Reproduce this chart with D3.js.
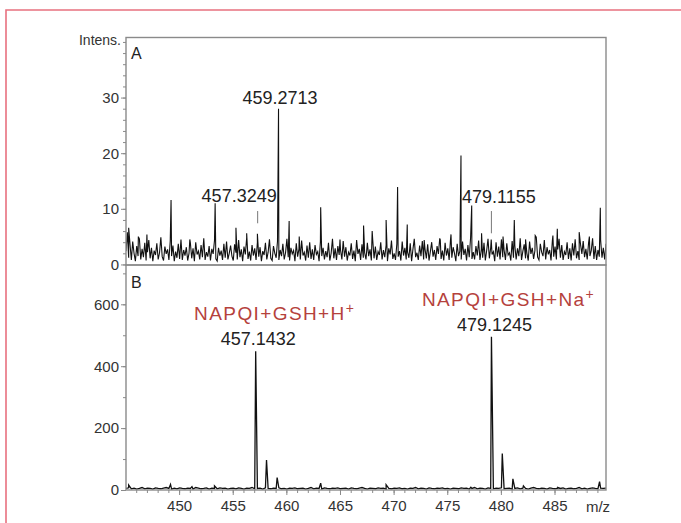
<!DOCTYPE html>
<html>
<head>
<meta charset="utf-8">
<script src="https://cdnjs.cloudflare.com/ajax/libs/d3/7.8.5/d3.min.js"></script>
<style>
  body { margin: 0; background: #fff; }
  text { font-family: "Liberation Sans", Arial, sans-serif; }
</style>
</head>
<body>
<div id="graph"></div>
<script>

// noise traces are sampled on a regular m/z grid
var mzStart = 445.05, stepA = 0.125, stepB = 0.25;

// panel A - baseline noise (Intens.)
var noiseA = [
  2.4,5.8,1.2,3.6,0.8,4.1,2.0,0.6,3.3,1.5,4.6,0.9,2.8,1.3,3.9,0.7,2.2,4.4,1.1,3.0,
  0.6,2.5,1.7,3.8,0.9,2.1,4.9,1.4,0.7,3.2,1.9,2.7,0.8,4.2,1.5,3.4,0.6,2.3,1.2,3.7,
  1.0,4.5,0.8,2.6,1.6,3.1,0.7,2.0,3.9,1.1,2.9,0.6,4.0,1.8,2.4,0.9,3.5,1.3,4.7,0.8,
  2.2,1.4,3.3,0.7,2.8,1.9,4.3,1.0,0.6,3.0,1.6,2.5,0.8,3.7,1.2,4.1,0.9,2.0,3.4,1.5,
  0.7,3.6,2.1,0.9,4.4,1.3,2.7,0.6,3.2,1.8,4.8,1.0,2.3,0.7,3.5,1.6,2.9,0.8,4.0,1.4,
  3.1,0.6,2.4,1.7,3.9,0.9,2.2,4.5,1.1,0.7,3.3,2.0,1.2,4.2,0.8,2.6,1.5,3.7,0.9,2.1,
  4.6,1.3,0.7,3.0,1.9,2.5,0.6,3.8,1.4,2.8,0.9,4.3,1.6,2.2,0.7,3.4,1.2,4.0,1.0,2.7,
  0.8,3.5,1.8,2.3,0.6,4.1,1.5,3.0,0.9,2.4,1.3,3.9,0.7,2.0,4.6,1.1,2.9,0.8,3.3,1.7,
  2.6,0.9,4.2,1.4,3.1,0.7,2.2,1.6,3.8,1.0,2.5,0.6,4.4,1.9,2.8,0.8,3.6,1.2,2.1,0.9,
  3.9,1.5,2.7,0.7,4.5,1.1,3.2,0.8,2.3,1.7,4.0,0.9,2.6,1.3,3.5,0.6,2.9,1.8,4.3,1.0,
  2.0,0.8,3.7,1.4,2.4,0.7,4.1,1.6,3.0,0.9,2.2,1.2,3.8,0.6,2.7,4.6,1.3,2.1,0.8,3.4,
  1.5,4.2,0.9,2.8,1.1,3.6,0.7,2.3,4.0,1.4,2.6,0.8,3.3,1.9,4.7,1.0,2.5,0.7,3.9,1.6,
  2.9,0.8,4.4,1.2,3.1,2.0,0.6,3.7,1.5,2.4,0.9,4.1,1.7,2.8,0.7,3.5,1.3,4.8,1.0,2.2,
  0.9,3.3,1.6,4.3,0.8,2.7,1.2,3.9,0.7,2.5,4.6,1.1,3.0,1.8,2.3,0.6,4.0,1.4,3.2,0.9,
  4.5,1.3,2.6,0.8,3.8,1.7,2.1,0.7,4.2,1.2,3.4,0.9,2.9,1.5,4.7,0.8,2.4,3.6,1.1,2.0,
  0.7,4.1,1.9,3.0,1.0,2.5,4.9,1.3,0.8,3.7,2.2,1.5,4.4,0.9,3.1,1.8,2.6,0.7,4.3,1.4,
  3.2,0.9,2.7,4.6,1.2,3.5,0.8,2.3,1.7,4.0,1.0,2.9,0.7,3.8,1.6,4.5,1.1,2.4,0.8,3.6,
  1.9,4.2,1.3,2.8,0.9,3.9,1.5,2.5,4.7,1.0,3.3,0.8,2.6,1.4,4.4,1.2,3.0,0.9,3.7,2.1
];
// panel A - spikes [m/z, intensity]
var peaksA = [
  [445.3, 6.6], [446.2, 5.0], [447.0, 5.4], [449.25, 11.6], [451.0, 4.5],
  [453.36, 11.0], [455.3, 6.6], [456.3, 5.6], [457.3, 5.5], [459.27, 28.0],
  [460.26, 7.8], [461.2, 5.0], [463.2, 10.3], [465.0, 4.5], [467.2, 7.0],
  [468.0, 6.0], [469.3, 8.0], [470.37, 13.9], [471.27, 7.2], [472.85, 4.4],
  [474.35, 4.4], [475.35, 5.4], [476.28, 19.6], [477.28, 10.6], [478.2, 5.6],
  [479.1, 4.5], [480.2, 5.0], [481.25, 8.0], [482.3, 4.5], [483.2, 5.2],
  [484.85, 5.2], [485.26, 6.4], [487.3, 5.8], [488.25, 5.0], [489.27, 10.2]
];

// panel B - baseline noise
var noiseB = [
  5,7,4,6,3,5,8,4,6,5,3,7,5,4,6,8,5,3,6,4,
  7,5,4,6,5,3,8,6,4,5,7,3,6,5,4,7,5,6,3,5,
  6,4,7,5,3,6,5,8,4,5,6,3,7,5,4,6,5,7,4,5,
  3,6,5,7,4,5,6,3,5,8,4,6,5,3,7,5,4,6,5,7,
  4,5,6,3,7,5,4,6,8,5,3,6,5,4,7,5,6,3,5,4,
  6,5,7,4,5,3,6,5,8,4,6,5,3,7,5,4,6,5,7,4,
  5,3,6,5,4,7,5,6,3,5,8,4,6,5,3,7,5,4,6,5,
  7,4,5,6,3,5,7,4,6,5,3,6,8,5,4,6,5,3,7,5,
  4,6,5,7,3,5,6,4,5,8,4,6,3,5,7,5,4,6,5,6
];
// panel B - peaks [m/z, intensity]
var peaksB = [
  [445.3, 16], [449.2, 18], [451.2, 11], [453.3, 13], [457.14, 448],
  [458.15, 97], [459.14, 40], [463.2, 22], [469.3, 17], [477.2, 9],
  [479.12, 495], [480.13, 118], [481.12, 36], [482.1, 13], [485.3, 8],
  [489.2, 27]
];

// ticks
var xTicks = [450, 455, 460, 465, 470, 475, 480, 485];
var yTicksA = [0, 10, 20, 30];
var yTicksB = [0, 200, 400, 600];

// peak labels
var labelsA = [
  { mz: 459.2713, v: 28.0, text: "459.2713" },
  { mz: 457.3249, v: 9.6, text: "457.3249", mark: [7.4, 9.6] },
  { mz: 479.1155, v: 9.6, text: "479.1155", mark: [5.6, 9.6] }
];
var labelsB = [
  { mz: 457.1432, v: 448, text: "457.1432", ion: "NAPQI+GSH+H" },
  { mz: 479.1245, v: 495, text: "479.1245", ion: "NAPQI+GSH+Na" }
];

// layout
var left = 126, right = 606, topA = 37.5, midY = 265, bottomB = 490;

var svg = d3.select("#graph")
  .append("svg")
  .attr("width", 681)
  .attr("height", 523);

// pink page frame
svg.append("path")
  .attr("d", "M6,523V10H681")
  .attr("fill", "none")
  .attr("stroke", "#e8717f")
  .attr("stroke-width", 1.6);

var x = d3.scaleLinear().domain([445.05, 489.8]).range([left, right]);
var yA = d3.scaleLinear().domain([-0.1, 40.8]).range([midY, topA]);
var yB = d3.scaleLinear().domain([0, 727]).range([bottomB, midY]);

svg.append("clipPath").attr("id", "clip")
  .append("rect")
  .attr("x", left).attr("y", topA)
  .attr("width", right - left).attr("height", bottomB - topA);

function buildTrace(noise, step, peaks) {
  var pts = noise.map(function (v, i) { return { mz: mzStart + i * step, v: v }; });
  peaks.forEach(function (p) { pts.push({ mz: p[0], v: p[1] }); });
  pts.sort(function (a, b) { return a.mz - b.mz; });
  return pts;
}

var traceA = buildTrace(noiseA, stepA, peaksA);
var traceB = buildTrace(noiseB, stepB, peaksB);

svg.append("path")
  .datum(traceA)
  .attr("clip-path", "url(#clip)")
  .attr("fill", "none")
  .attr("stroke", "#111")
  .attr("stroke-width", 1.1)
  .attr("d", d3.line().x(function (d) { return x(d.mz); }).y(function (d) { return yA(d.v); }));

svg.append("path")
  .datum(traceB)
  .attr("clip-path", "url(#clip)")
  .attr("fill", "none")
  .attr("stroke", "#111")
  .attr("stroke-width", 1.3)
  .attr("d", d3.line().x(function (d) { return x(d.mz); }).y(function (d) { return yB(d.v); }));

// panel frames
[[topA, midY], [midY, bottomB]].forEach(function (p) {
  svg.append("rect")
    .attr("x", left).attr("y", p[0])
    .attr("width", right - left).attr("height", p[1] - p[0])
    .attr("fill", "none")
    .attr("stroke", "#8a8a8a")
    .attr("stroke-width", 1.4);
});

function styleAxis(g) {
  g.attr("font-size", 15).attr("font-family", "'Liberation Sans', Arial, sans-serif");
  g.select(".domain").remove();
  g.selectAll("line").attr("stroke", "#8a8a8a").attr("stroke-width", 1);
  g.selectAll("text").attr("fill", "#333");
}

// y axes, major + minor
svg.append("g").attr("transform", "translate(" + left + ",0)")
  .call(d3.axisLeft(yA).tickValues(d3.range(0, 41, 2)).tickSize(3).tickFormat(""))
  .call(styleAxis);
svg.append("g").attr("transform", "translate(" + left + ",0)")
  .call(d3.axisLeft(yA).tickValues(yTicksA).tickSize(5).tickPadding(2))
  .call(styleAxis);
svg.append("g").attr("transform", "translate(" + left + ",0)")
  .call(d3.axisLeft(yB).tickValues(d3.range(0, 701, 100)).tickSize(3).tickFormat(""))
  .call(styleAxis);
svg.append("g").attr("transform", "translate(" + left + ",0)")
  .call(d3.axisLeft(yB).tickValues(yTicksB).tickSize(5).tickPadding(2))
  .call(styleAxis);

// x axis
svg.append("g").attr("transform", "translate(0," + bottomB + ")")
  .call(d3.axisBottom(x).tickValues(d3.range(446, 490, 1)).tickSize(3).tickFormat(""))
  .call(styleAxis);
svg.append("g").attr("transform", "translate(0," + bottomB + ")")
  .call(d3.axisBottom(x).tickValues(xTicks).tickSize(5).tickPadding(5))
  .call(styleAxis);

// axis titles
svg.append("text")
  .attr("x", 121).attr("y", 45)
  .attr("text-anchor", "end")
  .attr("font-size", "14px")
  .attr("fill", "#333")
  .text("Intens.");
svg.append("text")
  .attr("x", 598).attr("y", 512)
  .attr("text-anchor", "middle")
  .attr("font-size", "15px")
  .attr("fill", "#333")
  .text("m/z");

// panel letters
svg.append("text").attr("x", 131).attr("y", 59).attr("font-size", "16px").attr("fill", "#222").text("A");
svg.append("text").attr("x", 131).attr("y", 288).attr("font-size", "16px").attr("fill", "#222").text("B");

// panel A labels
var dxA = { "459.2713": 1.5, "457.3249": -18.5, "479.1155": 7.5 };
var dyA = { "459.2713": -5, "457.3249": -9, "479.1155": -8 };
labelsA.forEach(function (d) {
  svg.append("text")
    .attr("x", x(d.mz) + dxA[d.text])
    .attr("y", yA(d.v) + dyA[d.text])
    .attr("text-anchor", "middle")
    .attr("font-size", "18px")
    .attr("fill", "#222")
    .text(d.text);
  if (d.mark) {
    svg.append("line")
      .attr("x1", x(d.mz)).attr("x2", x(d.mz))
      .attr("y1", yA(d.mark[0])).attr("y2", yA(d.mark[1]))
      .attr("stroke", "#777")
      .attr("stroke-width", 1);
  }
});

// panel B labels
var dxB = { "457.1432": [2.5, 19], "479.1245": [3, 17] };
labelsB.forEach(function (d) {
  svg.append("text")
    .attr("x", x(d.mz) + dxB[d.text][0])
    .attr("y", yB(d.v) - 6)
    .attr("text-anchor", "middle")
    .attr("font-size", "18px")
    .attr("fill", "#222")
    .text(d.text);
  var t = svg.append("text")
    .attr("x", x(d.mz) + dxB[d.text][1])
    .attr("y", yB(d.v) - 31)
    .attr("text-anchor", "middle")
    .attr("font-size", "19px")
    .attr("letter-spacing", "1.4px")
    .attr("fill", "#b5413c");
  t.append("tspan").text(d.ion);
  t.append("tspan").attr("dy", -7).attr("font-size", "14px").text("+");
});

</script>
</body>
</html>
